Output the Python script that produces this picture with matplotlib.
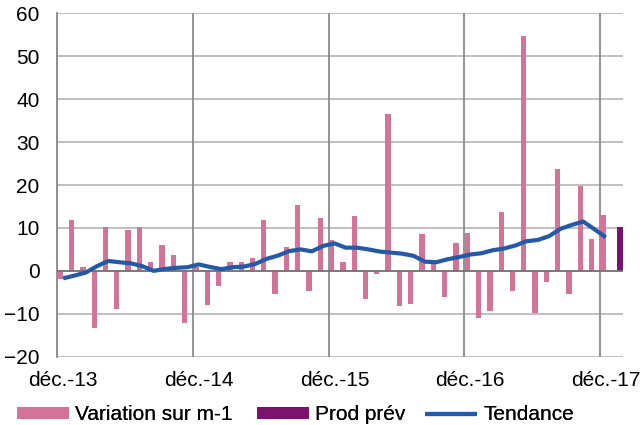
import matplotlib
matplotlib.use("Agg")
import matplotlib.pyplot as plt
import numpy as np

plt.rcParams['font.family'] = ['Liberation Sans', 'DejaVu Sans']

# Monthly data from déc.-13 (index 0) to déc.-17 (index 48)
variation = [-2.0, 11.9, 0.8, -13.4, 10.3, -8.9, 9.5, 10.3, 2.1, 6.0, 3.6, -12.1,
             0.9, -8.0, -3.5, 2.1, 2.1, 3.1, 11.9, -5.5, 5.5, 15.3, -4.8, 12.4,
             7.3, 2.1, 12.8, -6.5, -0.7, 36.5, -8.2, -7.7, 8.6, 1.9, -6.1, 6.5,
             8.8, -11.0, -9.4, 13.7, -4.7, 54.6, -9.9, -2.7, 23.8, -5.5, 19.8, 7.5,
             12.9]
prod_prev = 10.2  # forecast for the following month (index 49)
tendance = [-1.75, -1.1, -0.4, 1.1, 2.3, 2.0, 1.75, 1.1, 0.0, 0.45, 0.7, 0.85,
            1.5, 0.9, 0.4, 0.85, 1.0, 1.6, 2.8, 3.55, 4.6, 5.0, 4.55, 5.8,
            6.4, 5.4, 5.4, 5.0, 4.5, 4.25, 4.0, 3.5, 2.15, 2.0, 2.7, 3.2,
            3.8, 4.1, 4.8, 5.2, 5.9, 6.9, 7.2, 8.1, 9.8, 10.7, 11.5, 9.7,
            7.8]
tick_labels = ['déc.-13', 'déc.-14', 'déc.-15', 'déc.-16', 'déc.-17']
y_ticks = [-20, -10, 0, 10, 20, 30, 40, 50, 60]

pink = '#D27397'
purple = '#7D1170'
blue = '#2459A8'

fig = plt.figure(figsize=(6.43, 4.25), dpi=100)
ax = fig.add_axes([0.0894, 0.1607, 0.9684 - 0.0894, 0.9687 - 0.1607])

n = len(variation)
x = np.arange(n)
w = 0.47
h1 = ax.bar(x - 0.25, variation, width=w, color=pink, label='Variation sur m-1', zorder=3)
h2 = ax.bar([n + 0.25], [prod_prev], width=w, color=purple, label='Prod prév', zorder=3)
h3, = ax.plot(x, tendance, color=blue, lw=3, label='Tendance', zorder=4, solid_capstyle='butt')

ax.set_xlim(-0.5, n + 0.5)
ax.set_ylim(-20, 60)

# gridlines
for yv in y_ticks:
    ax.axhline(yv, color='#B4B4B4', lw=1.2, zorder=1)
ax.axhline(0, color='#707070', lw=1.2, zorder=3.5)
for k in range(0, n + 1, 12):
    ax.axvline(k - 0.5, color='#8A8A8A', lw=1.3, zorder=1)

for s in ax.spines.values():
    s.set_visible(False)
ax.spines['left'].set_visible(True)
ax.spines['left'].set_color('#8A8A8A')
ax.spines['left'].set_linewidth(1.3)

ax.set_yticks(y_ticks)
ax.set_xticks(range(0, n, 12))
ax.set_xticklabels(tick_labels)
ax.tick_params(axis='y', length=0, pad=13, labelsize=15)
ax.tick_params(axis='x', length=0, pad=10, labelsize=15)

# one legend entry per box, placed like the reference
for handle, xpx in [(h1, 17), (h2, 257), (h3, 425)]:
    leg = fig.legend(handles=[handle], loc='center left',
                     bbox_to_anchor=(xpx / 643, 10 / 425),
                     frameon=False, fontsize=15, handlelength=2.5, handleheight=0.48,
                     handletextpad=0.29, borderpad=0, borderaxespad=0)
    fig.add_artist(leg)

fig.savefig('out.png', dpi=100)
